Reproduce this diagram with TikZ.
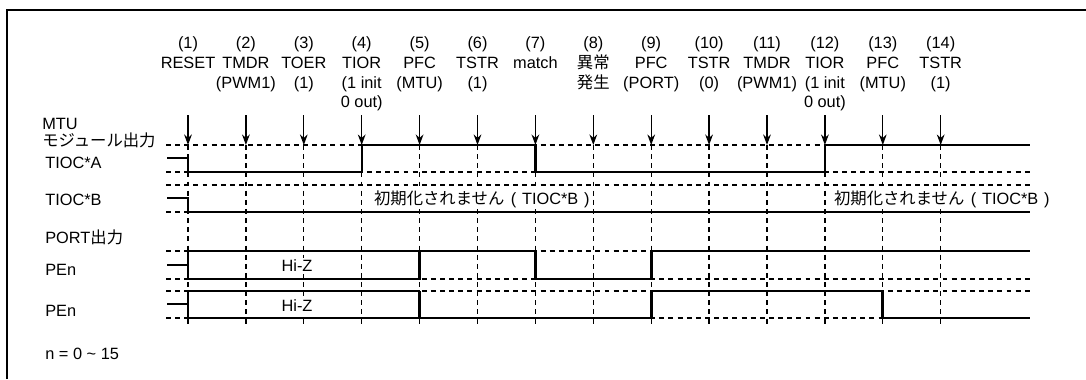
\documentclass[tikz,border=0pt]{standalone}
\usepackage{fontspec}
\setmainfont{Liberation Sans}
\newfontfamily\jp{Noto Sans CJK JP}
\usetikzlibrary{arrows.meta}

\begin{document}
\begin{tikzpicture}[x=0.02cm,y=-0.02cm,
  every node/.style={font=\fontsize{9.3}{11.2}\selectfont},
  ev/.style={inner sep=0pt,align=center,anchor=north},
  lb/.style={inner sep=0pt,anchor=base west},
  note/.style={fill=white,inner sep=1pt},
  sig/.style={line width=1.5pt,line join=miter},
  grid/.style={line width=0.7pt,dash pattern=on 2.8pt off 2.4pt},
  trig/.style={line width=0.7pt,-{Stealth[length=6pt,width=4.4pt]}}]
 \useasboundingbox (0,0) rectangle (1086,379);
 \draw[line width=1.1pt] (7,379) -- (7,10) -- (1086,10);

 % event labels, trigger arrows, time grid
 \foreach \i/\t in {1/{(1)\\RESET},2/{(2)\\TMDR\\(PWM1)},3/{(3)\\TOER\\(1)},
   4/{(4)\\TIOR\\(1 init\\0 out)},5/{(5)\\PFC\\(MTU)},6/{(6)\\TSTR\\(1)},
   7/{(7)\\match},8/{(8)\\{\jp 異常}\\{\jp 発生}},9/{(9)\\PFC\\(PORT)},
   10/{(10)\\TSTR\\(0)},11/{(11)\\TMDR\\(PWM1)},12/{(12)\\TIOR\\(1 init\\0 out)},
   13/{(13)\\PFC\\(MTU)},14/{(14)\\TSTR\\(1)}}{
   \pgfmathsetmacro\ex{188+57.9*(\i-1)}
   \node[ev] (ev\i) at (\ex,36.5) {\t};
   \coordinate (a\i) at (\ex,115);
   \coordinate (b\i) at (\ex,145);
   \coordinate (c\i) at (\ex,326);
   \draw[grid] (b\i) -- (c\i);
   \draw[trig] (a\i) -- (b\i);
 }

 % level guides
 \foreach \y in {145,172,185,212,251,279,291,318}
   \draw[grid] (166,\y) -- (1030,\y);

 % signal names
 \node[lb] (mtu) at (42,129) {MTU};
 \node[lb] (modout) at (42,146.5) {\jp モジュール出力};
 \node[lb] (tioca) at (45,168) {TIOC*A};
 \node[lb] (tiocb) at (45,205) {TIOC*B};
 \node[lb] (port) at (45,243) {PORT{\jp 出力}};
 \node[lb] (pen1) at (45,275) {PEn};
 \node[lb] (pen2) at (45,316) {PEn};
 \node[lb] (nrange) at (45,359) {n = 0 \textasciitilde{} 15};

 % notes over the grid
 \node[note,anchor=base west] (keep1) at (372,204) {{\jp 初期化されません}\hspace{0.4em}(\hspace{0.35em}TIOC*B\hspace{0.35em})};
 \node[note,anchor=base west] (keep2) at (832,204) {{\jp 初期化されません}\hspace{0.4em}(\hspace{0.35em}TIOC*B\hspace{0.35em})};
 \node[note] (hiz1) at (297,266) {Hi-Z};
 \node[note] (hiz2) at (297,306) {Hi-Z};

 % TIOC*A
 \draw[sig] (167,158) -- (188,158) -- (188,172) -- (362,172) -- (362,145)
   -- (535.4,145) -- (535.4,172) -- (824.9,172) -- (824.9,145) -- (1030,145);
 % TIOC*B
 \draw[sig] (167,198) -- (188,198) -- (188,212) -- (1030,212);
 % PEn (first)
 \draw[sig] (167,265) -- (188,265);
 \draw[sig] (419.6,251) -- (188,251) -- (188,279) -- (419.6,279) -- (419.6,251)
   -- (535.4,251) -- (535.4,279) -- (651.2,279) -- (651.2,251) -- (1030,251);
 % PEn (second)
 \draw[sig] (167,304) -- (188,304);
 \draw[sig] (419.6,291) -- (188,291) -- (188,318) -- (419.6,318) -- (419.6,291);
 \draw[sig] (419.6,318) -- (651.2,318) -- (651.2,291) -- (882.8,291) -- (882.8,318)
   -- (1030,318);
\end{tikzpicture}
\end{document}
